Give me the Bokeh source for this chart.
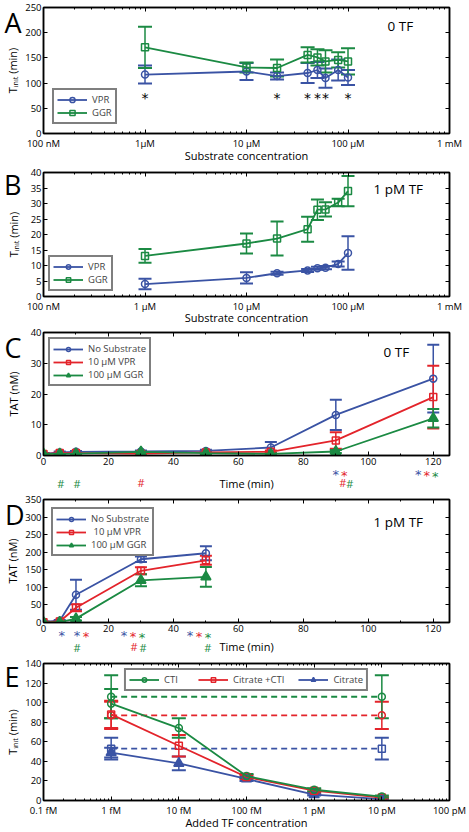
from bokeh.plotting import figure
from bokeh.models import (ColumnDataSource, Whisker, TeeHead, Legend, LegendItem, Label,
                          FixedTicker, SingleIntervalTicker, LinearAxis, LogAxis, Range1d,
                          CustomJSTickFormatter, BasicTickFormatter)
from bokeh.layouts import column
from bokeh.embed import file_html
from bokeh.resources import INLINE
from bokeh.core.properties import value

# ============================ DATA ============================
A_conc = [1, 10, 20, 40, 50, 60, 80, 100]
A_vpr = [117, 123, 114, 120, 126, 110, 126, 111]
A_vpr_err = [18, 17, 7, 20, 16, 19, 21, 15]
A_ggr = [171, 131, 130, 156, 151, 143, 146, 143]
A_ggr_err = [41, 10, 17, 15, 16, 22, 15, 26]
A_sig_conc = [1, 20, 40, 50, 60, 100]
A_sig_level = 71

B_conc = [1, 10, 20, 40, 50, 60, 80, 100]
B_vpr = [4.0, 6.0, 7.5, 8.4, 9.1, 9.3, 10.5, 14.0]
B_vpr_err = [1.7, 1.8, 0.5, 0.5, 0.5, 0.5, 0.8, 5.4]
B_ggr = [13.1, 17.1, 18.7, 21.7, 28.0, 28.1, 30.3, 34.0]
B_ggr_err = [2.2, 3.2, 5.5, 4.0, 3.3, 2.3, 1.2, 4.9]

substrate_ticks = [0.1, 1, 10, 100, 1000]
A_tick_labels = ["100 nM", "1µM", "10 µM", "100 µM", "1 mM"]
B_tick_labels = ["100 nM", "1 µM", "10 µM", "100 µM", "1 mM"]

C_time = [0, 5, 10, 30, 50, 70, 90, 120]
C_none = [0.5, 1.0, 1.2, 1.3, 1.5, 2.6, 13.2, 25.0]
C_none_err = [0.2, 0.3, 0.3, 0.3, 0.4, 1.8, 4.9, 11.0]
C_vpr = [0.5, 0.8, 0.8, 0.6, 1.0, 1.2, 4.9, 19.0]
C_vpr_err = [0.2, 0.2, 0.2, 0.2, 0.3, 0.4, 2.7, 10.2]
C_ggr = [0.5, 0.5, 0.6, 1.2, 0.8, 0.5, 1.3, 12.1]
C_ggr_err = [0.2, 0.2, 0.2, 0.3, 0.3, 0.2, 0.5, 3.0]
C_star_none = [90, 120]
C_star_vpr = [90, 120]
C_star_ggr = [120]
C_hash_vpr = [30, 90]
C_hash_ggr = [5, 10, 90]

D_time = [0, 5, 10, 30, 50]
D_none = [2, 5, 79, 180, 197]
D_none_err = [1, 2, 43, 8, 20]
D_vpr = [1, 3, 42, 147, 177]
D_vpr_err = [1, 1, 10, 10, 13]
D_ggr = [0, 1, 11, 120, 130]
D_ggr_err = [1, 1, 5, 17, 28]
D_star_none = [5, 10, 30, 50]
D_star_vpr = [10, 30, 50]
D_star_ggr = [30, 50]
D_hash_vpr = [30]
D_hash_ggr = [10, 30, 50]

E_tf = [1, 10, 100, 1000, 10000]
E_cti = [99, 74, 25, 11, 4]
E_cti_err = [15, 10, 2, 1.5, 1]
E_citcti = [88, 56, 24, 10, 3]
E_citcti_err = [14, 11, 2, 1.5, 1]
E_cit = [49, 38, 22, 6, 1.5]
E_cit_err = [5, 7, 2, 1, 0.5]
E_notf = [106, 87, 53]          # no added TF: CTI, Citrate +CTI, Citrate
E_notf_err = [22, 14, 11]
E_ticks = [0.1, 1, 10, 100, 1000, 10000, 100000]
E_tick_labels = ["0.1 fM", "1 fM", "10 fM", "100 fM", "1 pM", "10 pM", "100 pM"]

# ============================ STYLE ============================
BLUE, RED, GREEN = "#3A53A4", "#E3242B", "#1B8A43"
FONT = "Open Sans"
TICK_FS = "9.5px"
LABEL_FS = "11px"
W = 469
LEFT, RIGHT = 43, 20
FRAME_W = W - LEFT - RIGHT
TINIT = "T\u1d62\u2099\u1d62\u209c (min)"

C_STAR_SHIFT = {90: 0, 120: -15}
C_HASH_SHIFT = {5: 1, 10: 1, 30: 0, 90: 7}
D_STAR_SHIFT = {5: 2, 10: 1, 30: -17, 50: -16}
D_HASH_SHIFT = {10: 1, 30: -7, 50: 2}


def log_minor(ticks):
    out = []
    for t in ticks[:-1]:
        out += [t * k for k in range(2, 10)]
    return out


def base_fig(height, xr, yr, xtype, xticker, yticker, top, bottom, xlabel, ylabel,
             ylab_standoff, xlab_standoff=2, xtick_standoff=2):
    p = figure(width=W, height=height, x_range=xr, y_range=yr, x_axis_type=xtype,
               output_backend="svg", toolbar_location=None,
               min_border_left=LEFT, min_border_right=RIGHT,
               min_border_top=top, min_border_bottom=bottom)
    p.grid.visible = False
    p.outline_line_color = "black"
    p.outline_line_width = 1.5
    AxisX = LogAxis if xtype == "log" else LinearAxis
    p.add_layout(AxisX(ticker=xticker), "above")
    p.add_layout(LinearAxis(ticker=yticker), "right")
    p.below[0].ticker = xticker
    p.left[0].ticker = yticker
    if xtype == "log":
        p.below[0].formatter = BasicTickFormatter()
        p.above[0].formatter = BasicTickFormatter()
    for ax in (p.below[0], p.left[0], p.above[0], p.right[0]):
        ax.axis_line_color = "black"
        ax.axis_line_width = 1.5
        ax.major_tick_in = 4
        ax.major_tick_out = 0
        ax.minor_tick_in = 2
        ax.minor_tick_out = 0
        ax.major_label_text_font = FONT
        ax.major_label_text_font_size = TICK_FS
        ax.major_label_text_color = "black"
        ax.major_label_standoff = 2
    for ax in (p.above[0], p.right[0]):
        ax.major_label_text_font_size = "1px"
        ax.major_label_text_alpha = 0
        ax.major_label_standoff = 0
    p.below[0].major_label_standoff = xtick_standoff
    for ax, lab in ((p.below[0], xlabel), (p.left[0], ylabel)):
        if lab:
            ax.axis_label = lab
            ax.axis_label_text_font = FONT
            ax.axis_label_text_font_size = LABEL_FS
            ax.axis_label_text_font_style = "normal"
            ax.axis_label_text_color = "black"
    p.below[0].axis_label_standoff = xlab_standoff
    p.left[0].axis_label_standoff = ylab_standoff
    return p


def series(p, x, y, err, color, marker, size=7, cap=13, filled=False, dash="solid"):
    src = ColumnDataSource(dict(x=x, lo=[a - b for a, b in zip(y, err)],
                                hi=[a + b for a, b in zip(y, err)]))
    p.add_layout(Whisker(source=src, base="x", lower="lo", upper="hi",
                         line_color=color, line_width=1.5,
                         upper_head=TeeHead(size=cap, line_color=color, line_width=2),
                         lower_head=TeeHead(size=cap, line_color=color, line_width=2)))
    ln = p.line(x, y, line_color=color, line_width=1.8, line_dash=dash)
    sc = p.scatter(x, y, marker=marker, size=size, line_color=color, line_width=1.5,
                   fill_color=color if filled else None)
    return [ln, sc]


def add_legend(p, items, location, margin, row_h=12, glyph_w=28, orientation="vertical",
               spacing=0):
    lg = Legend(items=[LegendItem(label=l, renderers=r) for l, r in items],
                location=location, orientation=orientation, margin=margin, padding=3,
                spacing=spacing, glyph_width=glyph_w, glyph_height=row_h, label_height=row_h,
                label_standoff=5, label_text_font=FONT, label_text_font_size="9.5px",
                border_line_color="black", border_line_width=2,
                background_fill_color="white", background_fill_alpha=1)
    p.add_layout(lg)


def text_axis(ticks, symbol, color, font, size, standoff):
    return LinearAxis(ticker=FixedTicker(ticks=ticks, minor_ticks=[]),
                      formatter=CustomJSTickFormatter(code="return %r" % symbol),
                      axis_line_color=None, major_tick_line_color=None,
                      minor_tick_line_color=None, major_tick_in=0, major_tick_out=0,
                      minor_tick_in=0, minor_tick_out=0, major_label_standoff=standoff,
                      major_label_text_color=color, major_label_text_font=font,
                      major_label_text_font_size=size)


def panel_letter(p, letter, below_top, frame_h, yr, standoff):
    yv = yr.end - below_top * (yr.end - yr.start) / frame_h
    p.add_layout(text_axis([yv], letter, "black", FONT, "27px", standoff), "left")


def corner_text(p, text, x_left, below_top, frame_h):
    p.add_layout(Label(x=x_left, y=frame_h - below_top, x_units="screen", y_units="screen",
                       text=text, text_font=FONT, text_font_size="13.5px",
                       text_baseline="middle", text_color="black"))


def sig_rows(p, groups, shifts, symbol, font, size, standoffs, xr, spacing=8.5,
             label=None, label_standoff=0):
    """One tick-label row per colour, stacked in the bottom panel."""
    per_px = (xr.end - xr.start) / FRAME_W
    pos = [[] for _ in groups]
    for t in sorted(shifts):
        present = [k for k, (times, c) in enumerate(groups) if t in times]
        for i, k in enumerate(present):
            pos[k].append(t + (shifts[t] + i * spacing) * per_px)
    axes = []
    used = [k for k in range(len(groups)) if pos[k]]
    for j, k in enumerate(used):
        ax = text_axis(pos[k], symbol, groups[k][1], font, size, standoffs[min(j, 1)])
        p.add_layout(ax, "below")
        axes.append(ax)
    if label:
        ax = axes[-1]
        ax.axis_label = label
        ax.axis_label_text_font = FONT
        ax.axis_label_text_font_size = LABEL_FS
        ax.axis_label_text_font_style = "normal"
        ax.axis_label_text_color = "black"
        ax.axis_label_standoff = label_standoff


# ============================ PANEL A ============================
hA, tA, bA = 165, 7, 32
fA = hA - tA - bA
xrA, yrA = Range1d(0.1, 1000), Range1d(0, 250)
pA = base_fig(hA, xrA, yrA, "log",
              FixedTicker(ticks=substrate_ticks, minor_ticks=log_minor(substrate_ticks)),
              SingleIntervalTicker(interval=50, num_minor_ticks=0), tA, bA,
              "Substrate concentration", TINIT, 2, xlab_standoff=-5, xtick_standoff=3)
pA.below[0].major_label_overrides = dict(zip(substrate_ticks, A_tick_labels))
rA1 = series(pA, A_conc, A_vpr, A_vpr_err, BLUE, "circle", cap=14)
rA2 = series(pA, A_conc, A_ggr, A_ggr_err, GREEN, "square", cap=14)
pA.text(x=A_sig_conc, y=[A_sig_level] * len(A_sig_conc), text=["*"] * len(A_sig_conc),
        text_font=value("DejaVu Sans"), text_font_size="14px", text_align="center",
        text_baseline="middle", text_color="black")
add_legend(pA, [("VPR", rA1), ("GGR", rA2)], "bottom_left", 9, row_h=13, glyph_w=30)
panel_letter(pA, "A", 8, fA, yrA, -19)
corner_text(pA, "0 TF", 344, 18, fA)

# ============================ PANEL B ============================
hB, tB, bB = 162, 7, 31
fB = hB - tB - bB
xrB, yrB = Range1d(0.1, 1000), Range1d(0, 40)
pB = base_fig(hB, xrB, yrB, "log",
              FixedTicker(ticks=substrate_ticks, minor_ticks=log_minor(substrate_ticks)),
              SingleIntervalTicker(interval=5, num_minor_ticks=0), tB, bB,
              "Substrate concentration", TINIT, 7, xlab_standoff=-6, xtick_standoff=3)
pB.below[0].major_label_overrides = dict(zip(substrate_ticks, B_tick_labels))
rB1 = series(pB, B_conc, B_vpr, B_vpr_err, BLUE, "circle", cap=13)
rB2 = series(pB, B_conc, B_ggr, B_ggr_err, GREEN, "square", cap=13)
add_legend(pB, [("VPR", rB1), ("GGR", rB2)], "bottom_left", 5, row_h=11, glyph_w=30)
panel_letter(pB, "B", 12, fB, yrB, -19)
corner_text(pB, "1 pM TF", 330, 16, fB)

# ============================ PANEL C ============================
hC, tC, bC = 166, 5, 38
fC = hC - tC - bC
xrC, yrC = Range1d(0, 125), Range1d(0, 40)
pC = base_fig(hC, xrC, yrC, "linear",
              SingleIntervalTicker(interval=20, num_minor_ticks=2),
              SingleIntervalTicker(interval=10, num_minor_ticks=0), tC, bC,
              None, "TAT (nM)", 7)
rC1 = series(pC, C_time, C_none, C_none_err, BLUE, "circle", cap=12)
rC2 = series(pC, C_time, C_vpr, C_vpr_err, RED, "square", cap=12)
rC3 = series(pC, C_time, C_ggr, C_ggr_err, GREEN, "triangle", size=10, cap=12, filled=True)
add_legend(pC, [("No Substrate", rC1), ("10 µM VPR", rC2), ("100 µM GGR", rC3)],
           "top_left", 5, row_h=10, glyph_w=30)
sig_rows(pC, [(C_star_none, BLUE), (C_star_vpr, RED), (C_star_ggr, GREEN)],
         C_STAR_SHIFT, "*", "DejaVu Sans", "13px", [-1, -17], xrC)
sig_rows(pC, [([], BLUE), (C_hash_vpr, RED), (C_hash_ggr, GREEN)],
         C_HASH_SHIFT, "#", FONT, "11px", [-12, -17], xrC, spacing=7,
         label="Time (min)", label_standoff=-18)
panel_letter(pC, "C", 12, fC, yrC, -19)
corner_text(pC, "0 TF", 340, 19, fC)

# ============================ PANEL D ============================
hD, tD, bD = 164, 6, 35
fD = hD - tD - bD
xrD, yrD = Range1d(0, 125), Range1d(0, 350)
pD = base_fig(hD, xrD, yrD, "linear",
              SingleIntervalTicker(interval=20, num_minor_ticks=2),
              SingleIntervalTicker(interval=50, num_minor_ticks=0), tD, bD,
              None, "TAT (nM)", 2)
rD1 = series(pD, D_time, D_none, D_none_err, BLUE, "circle", cap=12)
rD2 = series(pD, D_time, D_vpr, D_vpr_err, RED, "square", cap=12)
rD3 = series(pD, D_time, D_ggr, D_ggr_err, GREEN, "triangle", size=10, cap=12, filled=True)
add_legend(pD, [("No Substrate", rD1), (" 10 µM VPR", rD2), ("100 µM GGR", rD3)],
           "top_left", 8, row_h=10, glyph_w=30)
sig_rows(pD, [(D_star_none, BLUE), (D_star_vpr, RED), (D_star_ggr, GREEN)],
         D_STAR_SHIFT, "*", "DejaVu Sans", "13px", [-7, -17], xrD, spacing=9)
sig_rows(pD, [([], BLUE), (D_hash_vpr, RED), (D_hash_ggr, GREEN)],
         D_HASH_SHIFT, "#", FONT, "11px", [-9, -17], xrD, spacing=9,
         label="Time (min)", label_standoff=-19)
panel_letter(pD, "D", 10, fD, yrD, -22)
corner_text(pD, "1 pM TF", 330, 22, fD)

# ============================ PANEL E ============================
hE, tE, bE = 175, 6, 32
fE = hE - tE - bE
xrE, yrE = Range1d(0.1, 100000), Range1d(0, 140)
pE = base_fig(hE, xrE, yrE, "log",
              FixedTicker(ticks=E_ticks, minor_ticks=log_minor(E_ticks)),
              SingleIntervalTicker(interval=20, num_minor_ticks=0), tE, bE,
              "Added TF concentration", TINIT, 2, xlab_standoff=-5, xtick_standoff=3)
pE.below[0].major_label_overrides = dict(zip(E_ticks, E_tick_labels))
ends = [E_tf[0], E_tf[-1]]
series(pE, ends, [E_notf[2]] * 2, [E_notf_err[2]] * 2, BLUE, "square", cap=14, dash="6 4")
series(pE, ends, [E_notf[1]] * 2, [E_notf_err[1]] * 2, RED, "circle", cap=14, dash="6 4")
series(pE, ends, [E_notf[0]] * 2, [E_notf_err[0]] * 2, GREEN, "circle", cap=14, dash="6 4")
rE3 = series(pE, E_tf, E_cit, E_cit_err, BLUE, "triangle", size=10, cap=14, filled=True)
rE2 = series(pE, E_tf, E_citcti, E_citcti_err, RED, "square", cap=14)
rE1 = series(pE, E_tf, E_cti, E_cti_err, GREEN, "circle", cap=14)
add_legend(pE, [("CTI", rE1), ("Citrate +CTI", rE2), ("Citrate", rE3)], "top_center", 5,
           row_h=11, glyph_w=30, orientation="horizontal", spacing=14)
panel_letter(pE, "E", 13, fE, yrE, -17)

layout = column(pA, pB, pC, pD, pE, spacing=0)
open("out.html", "w").write(file_html(layout, INLINE))
